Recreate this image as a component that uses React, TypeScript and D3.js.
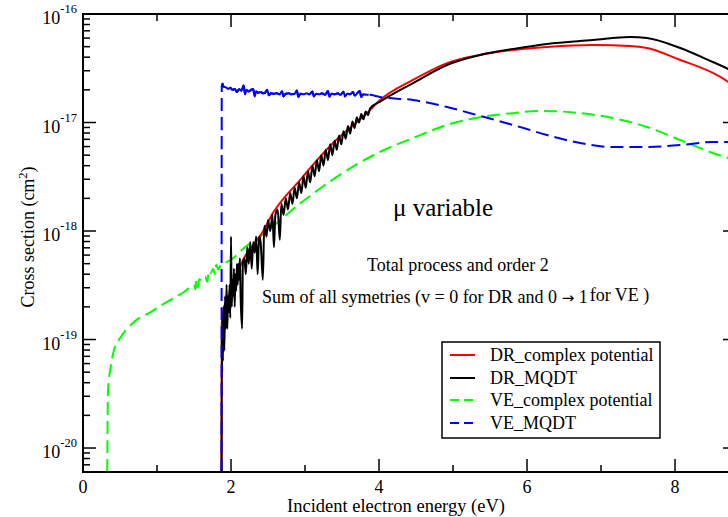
import React from "react";
import * as d3 from "d3";

const W = 728;
const H = 517;

// ---- Data (energy in eV, cross section in cm^2) ----
const redX = [1.872, 1.875, 1.9, 1.986, 2.162, 2.419, 2.568, 2.932, 3.378, 3.838, 4.01, 4.46, 4.92, 5.365, 5.81, 6.27, 6.89, 7.39, 7.62, 8.07, 8.51, 8.72, 8.82];
const redY = [4e-21, 1.4e-19, 1.9e-19, 2.69e-19, 5.4e-19, 9.6e-19, 1.47e-18, 2.95e-18, 6.47e-18, 1.22e-17, 1.6e-17, 2.47e-17, 3.53e-17, 4.19e-17, 4.66e-17, 4.97e-17, 5.18e-17, 5.07e-17, 4.86e-17, 3.77e-17, 2.86e-17, 2.36e-17, 2.1e-17];

const blackX = [1.872, 1.875, 1.88, 1.885, 1.89, 1.9, 1.91, 1.92, 1.93, 1.94, 1.95, 1.96, 1.97, 1.98, 1.99, 2.0, 2.01, 2.02, 2.03, 2.04, 2.05, 2.06, 2.07, 2.08, 2.09, 2.1, 2.11, 2.12, 2.13, 2.15, 2.16, 2.18, 2.2, 2.22, 2.24, 2.26, 2.28, 2.3, 2.32, 2.34, 2.36, 2.38, 2.4, 2.43, 2.45, 2.48, 2.5, 2.53, 2.56, 2.58, 2.6, 2.63, 2.66, 2.68, 2.71, 2.74, 2.77, 2.8, 2.83, 2.86, 2.89, 2.92, 2.95, 2.98, 3.01, 3.04, 3.07, 3.1, 3.13, 3.16, 3.19, 3.22, 3.25, 3.28, 3.31, 3.34, 3.37, 3.4, 3.43, 3.46, 3.49, 3.52, 3.55, 3.58, 3.61, 3.64, 3.67, 3.7, 3.73, 3.76, 3.79, 3.82, 3.85, 3.88, 4.01, 4.46, 4.92, 5.365, 5.81, 6.27, 6.89, 7.39, 7.62, 8.07, 8.51, 8.72, 8.82];
const blackY = [4e-21, 1.0e-19, 5.0e-20, 1.58e-19, 6.3e-20, 2.0e-19, 7.9e-20, 2.5e-19, 1.26e-19, 3.2e-19, 1.26e-19, 2.5e-19, 1.78e-19, 3.2e-19, 1.58e-19, 8.9e-19, 2.0e-19, 3.55e-19, 2.5e-19, 4.5e-19, 2.0e-19, 4.0e-19, 2.8e-19, 5.0e-19, 3.2e-19, 5.0e-19, 3.55e-19, 5.6e-19, 2.5e-19, 1.26e-19, 5.0e-19, 5.6e-19, 4.0e-19, 7.1e-19, 5.0e-19, 7.9e-19, 4.5e-19, 7.9e-19, 6.3e-19, 8.9e-19, 4.0e-19, 8.9e-19, 7.9e-19, 3.55e-19, 1.12e-18, 8.9e-19, 1.26e-18, 1.0e-18, 1.41e-18, 7.1e-19, 1.41e-18, 1.58e-18, 8.3e-19, 1.78e-18, 1.41e-18, 2.0e-18, 1.58e-18, 2.24e-18, 1.78e-18, 2.5e-18, 2.0e-18, 2.8e-18, 2.24e-18, 3.2e-18, 2.5e-18, 3.55e-18, 2.8e-18, 4.0e-18, 3.2e-18, 4.5e-18, 3.55e-18, 5.0e-18, 4.0e-18, 5.6e-18, 4.5e-18, 6.3e-18, 5.0e-18, 6.8e-18, 5.6e-18, 7.6e-18, 6.3e-18, 8.3e-18, 7.1e-18, 9.3e-18, 7.9e-18, 1.02e-17, 8.9e-18, 1.12e-17, 1.0e-17, 1.2e-17, 1.07e-17, 1.26e-17, 1.17e-17, 1.35e-17, 1.55e-17, 2.31e-17, 3.39e-17, 4.19e-17, 4.75e-17, 5.3e-17, 5.75e-17, 6.14e-17, 6.01e-17, 4.86e-17, 3.61e-17, 3.11e-17, 2.85e-17];

const greenX = [0.326, 0.338, 0.374, 0.419, 0.509, 0.689, 0.915, 1.135, 1.365, 1.5, 1.52, 1.53, 1.55, 1.57, 1.6, 1.65, 1.68, 1.7, 1.726, 1.76, 1.78, 1.8, 1.83, 1.86, 1.996, 2.176, 2.42, 2.932, 3.378, 4.01, 4.46, 4.92, 5.365, 5.81, 6.18, 6.72, 7.16, 7.62, 8.07, 8.51, 8.72, 8.82];
const greenY = [4e-21, 3.43e-20, 5.58e-20, 8.0e-20, 1.05e-19, 1.45e-19, 1.79e-19, 2.22e-19, 2.74e-19, 3.18e-19, 2.9e-19, 3.5e-19, 3.0e-19, 3.6e-19, 3.5e-19, 3.8e-19, 3.4e-19, 4.3e-19, 4.1e-19, 4.5e-19, 4.0e-19, 4.9e-19, 4.4e-19, 4.86e-19, 5.4e-19, 6.97e-19, 9.2e-19, 1.79e-18, 2.99e-18, 5.35e-18, 7.2e-18, 9.5e-18, 1.12e-17, 1.22e-17, 1.28e-17, 1.22e-17, 1.1e-17, 9.1e-18, 6.9e-18, 5.24e-18, 4.71e-18, 4.5e-18];

const blueX = [1.872, 1.875, 1.885, 1.9, 1.93, 1.96, 1.99, 2.02, 2.05, 2.08, 2.11, 2.14, 2.17, 2.19, 2.21, 2.24, 2.27, 2.3, 2.32, 2.34, 2.37, 2.4, 2.43, 2.46, 2.49, 2.51, 2.54, 2.58, 2.62, 2.66, 2.69, 2.71, 2.74, 2.78, 2.82, 2.86, 2.89, 2.91, 2.94, 2.98, 3.02, 3.06, 3.1, 3.12, 3.15, 3.19, 3.23, 3.27, 3.31, 3.33, 3.36, 3.4, 3.44, 3.48, 3.52, 3.54, 3.57, 3.61, 3.65, 3.67, 3.7, 3.74, 3.76, 3.79, 3.83, 3.86, 4.01, 4.46, 4.92, 5.365, 5.81, 6.27, 6.72, 7.16, 7.62, 8.07, 8.51, 8.72, 8.82];
const blueY = [4e-21, 2.19e-17, 2.29e-17, 2.14e-17, 2.11e-17, 2.04e-17, 2.09e-17, 2.0e-17, 2.04e-17, 1.91e-17, 2.04e-17, 1.95e-17, 2.19e-17, 1.82e-17, 2.0e-17, 1.93e-17, 2.0e-17, 2.04e-17, 1.74e-17, 1.93e-17, 1.88e-17, 1.91e-17, 1.86e-17, 1.88e-17, 2.0e-17, 1.78e-17, 1.86e-17, 1.84e-17, 1.86e-17, 1.82e-17, 1.95e-17, 1.74e-17, 1.84e-17, 1.86e-17, 1.82e-17, 1.84e-17, 1.97e-17, 1.72e-17, 1.84e-17, 1.82e-17, 1.86e-17, 1.82e-17, 1.93e-17, 1.74e-17, 1.84e-17, 1.82e-17, 1.86e-17, 1.8e-17, 1.95e-17, 1.72e-17, 1.84e-17, 1.82e-17, 1.86e-17, 1.8e-17, 1.93e-17, 1.74e-17, 1.84e-17, 1.82e-17, 1.91e-17, 1.76e-17, 1.84e-17, 1.95e-17, 1.72e-17, 1.82e-17, 1.8e-17, 1.8e-17, 1.72e-17, 1.61e-17, 1.39e-17, 1.15e-17, 9.5e-18, 7.67e-18, 6.47e-18, 5.94e-18, 5.94e-18, 6.2e-18, 6.61e-18, 6.61e-18, 6.6e-18];

const xMajorTicks = [0, 2, 4, 6, 8];
const xMinorTicks = [1, 3, 5, 7];
const yMajorExponents = [-16, -17, -18, -19, -20];
const yMinorMultipliers = [2, 3, 4, 5, 6, 7, 8, 9];

const seriesNames = ["DR_complex potential", "DR_MQDT", "VE_complex potential", "VE_MQDT"];
const seriesColors = ["#ff0000", "#000000", "#00ff00", "#0000ff"];
const seriesDashed = [false, false, true, true];

const FONT = "'Liberation Serif', 'DejaVu Serif', serif";

export default function App() {
  const left = 83, right = 736, top = 14, bottom = 472;
  const x = d3.scaleLinear().domain([0, 8.824]).range([left, right]);
  const y = d3.scaleLog().domain([Math.pow(10, -20.221), 1e-16]).range([bottom, top]);

  const line = d3
    .line<[number, number]>()
    .x((d) => x(d[0]))
    .y((d) => y(d[1]))
    .curve(d3.curveMonotoneX);

  const zip = (a: number[], b: number[]) => a.map((v, i) => [v, b[i]] as [number, number]);
  const series = [zip(redX, redY), zip(blackX, blackY), zip(greenX, greenY), zip(blueX, blueY)];
  const drawOrder = [2, 0, 1, 3];
  // dense noisy plateau of VE_MQDT renders as a near-continuous trace
  const blueNoisy = series[3].filter((d) => d[0] >= 1.88 && d[0] <= 3.86);

  const yMinor: number[] = [];
  for (let e = -21; e <= -17; e++) {
    for (const m of yMinorMultipliers) {
      const v = m * Math.pow(10, e);
      if (v > y.domain()[0] && v < 1e-16) yMinor.push(v);
    }
  }

  const legendRows = [355, 378, 400, 423];

  return (
    <svg width={W} height={H} style={{ position: "absolute", left: 0, top: 0, background: "#fff" }} fontFamily={FONT}>
      <rect x={0} y={0} width={W} height={H} fill="#fff" />
      <defs>
        <clipPath id="plotclip">
          <rect x={left} y={top} width={right - left} height={bottom - top} />
        </clipPath>
      </defs>
      <g clipPath="url(#plotclip)">
        {drawOrder.map((i) => (
          <path
            key={i}
            d={line(series[i]) || ""}
            fill="none"
            stroke={seriesColors[i]}
            strokeWidth={2}
            strokeDasharray={seriesDashed[i] ? "13,6" : undefined}
            strokeLinejoin="round"
          />
        ))}
        <path d={line(blueNoisy) || ""} fill="none" stroke={seriesColors[3]} strokeWidth={2} strokeLinejoin="round" />
      </g>

      {/* frame */}
      <rect x={left} y={top} width={right - left} height={bottom - top} fill="none" stroke="#000" strokeWidth={2} />

      {/* x ticks */}
      {xMajorTicks.map((t) => (
        <g key={"xM" + t}>
          <line x1={x(t)} x2={x(t)} y1={bottom} y2={bottom - 13} stroke="#000" strokeWidth={1.5} />
          <line x1={x(t)} x2={x(t)} y1={top} y2={top + 13} stroke="#000" strokeWidth={1.5} />
          <text x={x(t)} y={493} textAnchor="middle" fontSize={18}>{t}</text>
        </g>
      ))}
      {xMinorTicks.map((t) => (
        <g key={"xm" + t}>
          <line x1={x(t)} x2={x(t)} y1={bottom} y2={bottom - 7} stroke="#000" strokeWidth={1.5} />
          <line x1={x(t)} x2={x(t)} y1={top} y2={top + 7} stroke="#000" strokeWidth={1.5} />
        </g>
      ))}

      {/* y ticks */}
      {yMajorExponents.map((e) => {
        const yy = y(Math.pow(10, e));
        return (
          <g key={"yM" + e}>
            <line x1={left} x2={left + 13} y1={yy} y2={yy} stroke="#000" strokeWidth={1.5} />
            <line x1={right} x2={right - 13} y1={yy} y2={yy} stroke="#000" strokeWidth={1.5} />
            <text x={77} y={yy + 10} textAnchor="end" fontSize={18}>
              10
              <tspan dy={-11} fontSize={12.5}>{String(e)}</tspan>
            </text>
          </g>
        );
      })}
      {yMinor.map((v, i) => (
        <g key={"ym" + i}>
          <line x1={left} x2={left + 7} y1={y(v)} y2={y(v)} stroke="#000" strokeWidth={1.5} />
          <line x1={right} x2={right - 7} y1={y(v)} y2={y(v)} stroke="#000" strokeWidth={1.5} />
        </g>
      ))}

      {/* axis titles */}
      <text x={396} y={512} textAnchor="middle" fontSize={18.5}>Incident electron energy (eV)</text>
      <text transform="translate(34,237) rotate(-90)" textAnchor="middle" fontSize={18}>
        Cross section (cm<tspan dy={-7} fontSize={12.5}>2</tspan><tspan dy={7}>)</tspan>
      </text>

      {/* annotations */}
      <text x={393} y={216} fontSize={25}>μ variable</text>
      <text x={367} y={271} fontSize={18}>Total process and order 2</text>
      <text x={262} y={303} fontSize={18}>
        Sum of all symetries (v = 0 for DR and 0 <tspan fontFamily="'DejaVu Sans', sans-serif" fontSize={15}>→</tspan> 1<tspan dx={2} dy={-2}>for VE )</tspan>
      </text>

      {/* legend */}
      <rect x={442} y={342} width={218} height={96} fill="#fff" stroke="#000" strokeWidth={1.5} />
      {seriesNames.map((name, i) => (
        <g key={name}>
          <line
            x1={450}
            x2={475}
            y1={legendRows[i]}
            y2={legendRows[i]}
            stroke={seriesColors[i]}
            strokeWidth={2}
            strokeDasharray={seriesDashed[i] ? "9,5" : undefined}
          />
          <text x={490} y={legendRows[i] + 6} fontSize={18}>{name}</text>
        </g>
      ))}
    </svg>
  );
}
